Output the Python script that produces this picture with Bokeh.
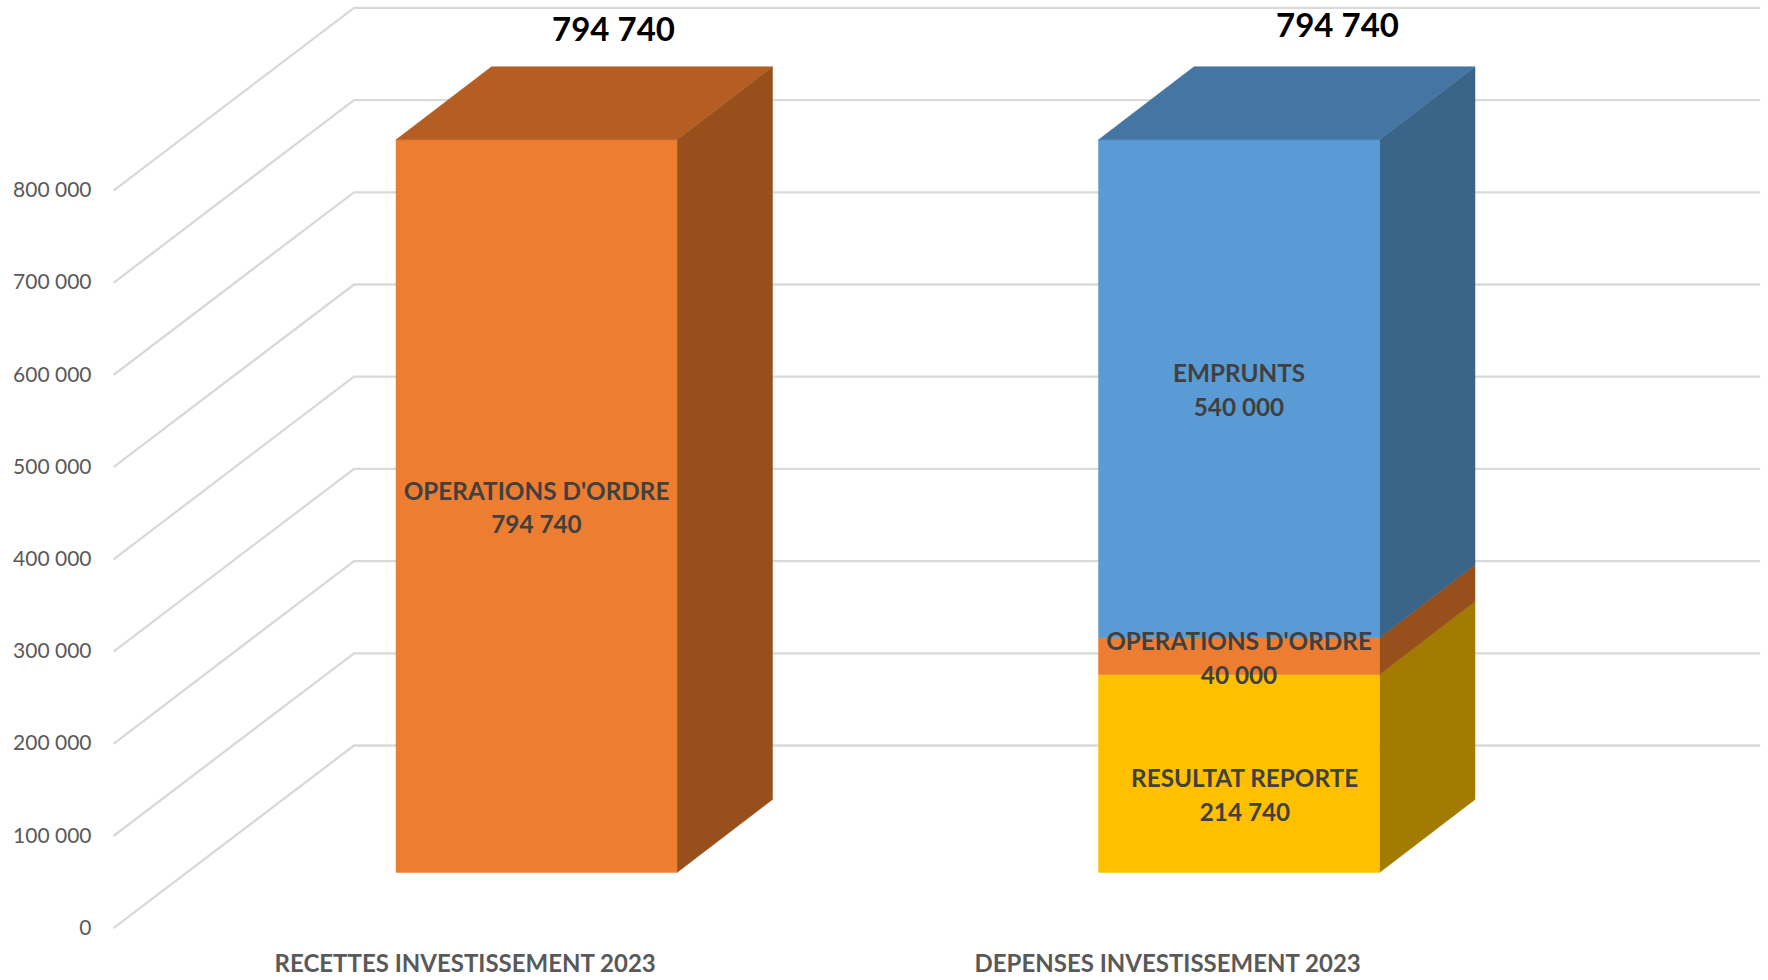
from bokeh.embed import file_html
from bokeh.resources import INLINE
from bokeh.plotting import figure
from bokeh.models import Range1d, LinearAxis, FixedTicker, ColumnDataSource
from bokeh.core.properties import value

categories = ["RECETTES INVESTISSEMENT 2023", "DEPENSES INVESTISSEMENT 2023"]
recettes_names = ["OPERATIONS D'ORDRE"]
recettes_values = [794740]
recettes_colors = [("#ED7D31", "#97501C", "#B45E23")]
depenses_names = ["RESULTAT REPORTE", "OPERATIONS D'ORDRE", "EMPRUNTS"]
depenses_values = [214740, 40000, 540000]
depenses_colors = [("#FFC000", "#A37B00", "#A37B00"),
                   ("#ED7D31", "#97501C", "#B45E23"),
                   ("#5B9BD5", "#3A6488", "#4575A2")]
totals = [794740, 794740]
tick_values = [0, 100000, 200000, 300000, 400000, 500000, 600000, 700000, 800000]
tick_labels = ["0", "100 000", "200 000", "300 000", "400 000", "500 000", "600 000", "700 000", "800 000"]

# geometry (page px -> data scales)
FRAME_L, FRAME_R, FRAME_T, FRAME_B = 100.0, 1760.0, 0.0, 930.0
PX_PER_VAL = 92.2 / 100000
PX_PER_CAT = 702.5
BASE_Y, BASE_X = 872.0, 536.0
HALF = 0.2
DX, DY = 95.5 / PX_PER_CAT, 73.0 / PX_PER_VAL          # bar depth
AX_SHIFT = (BASE_Y - 927.7) / PX_PER_VAL                # floor front edge
WALL_SHIFT = (BASE_Y - 745.0) / PX_PER_VAL              # back wall
LABEL_NUDGE = 2.0 / PX_PER_VAL                          # tick labels sit slightly above the line ends
XL_FRONT = (113.0 - BASE_X) / PX_PER_CAT
XL_BACK = (353.5 - BASE_X) / PX_PER_CAT
XR = (1760.0 - BASE_X) / PX_PER_CAT

x0 = (FRAME_L - BASE_X) / PX_PER_CAT
x1 = (FRAME_R - BASE_X) / PX_PER_CAT
y0 = (BASE_Y - FRAME_B) / PX_PER_VAL
y1 = (BASE_Y - FRAME_T) / PX_PER_VAL

p = figure(width=1768, height=980, output_backend="svg", toolbar_location=None,
           x_range=Range1d(x0, x1), y_range=Range1d(y0, y1),
           frame_width=int(FRAME_R - FRAME_L), frame_height=int(FRAME_B - FRAME_T),
           min_border_left=int(FRAME_L), min_border_right=8, min_border_top=0, min_border_bottom=50,
           x_axis_type=None, y_axis_type=None)
p.outline_line_color = None
p.grid.visible = False
p.background_fill_color = "#FFFFFF"
p.border_fill_color = "#FFFFFF"

# value axis lives on the front edge of the floor
p.extra_y_ranges["axis"] = Range1d(y0 - AX_SHIFT - LABEL_NUDGE, y1 - AX_SHIFT - LABEL_NUDGE)
yax = LinearAxis(y_range_name="axis", ticker=FixedTicker(ticks=tick_values),
                 major_label_overrides=dict(zip(tick_values, tick_labels)))
yax.axis_line_color = None
yax.major_tick_line_color = None
yax.minor_tick_line_color = None
yax.major_label_standoff = 3
yax.major_label_text_font = "Lato"
yax.major_label_text_font_size = "21px"
yax.major_label_text_color = "#595959"
p.add_layout(yax, "left")

# category axis, centred on the floor's front edge
CAT_SHIFT = -71.0 / PX_PER_CAT
p.extra_x_ranges["cat"] = Range1d(x0 - CAT_SHIFT, x1 - CAT_SHIFT)
xax = LinearAxis(x_range_name="cat", ticker=FixedTicker(ticks=[0, 1]),
                 major_label_overrides={0: categories[0], 1: categories[1]})
xax.axis_line_color = None
xax.major_tick_line_color = None
xax.minor_tick_line_color = None
xax.major_label_standoff = 11
xax.major_label_text_font = "Lato"
xax.major_label_text_font_style = "bold"
xax.major_label_text_font_size = "24px"
xax.major_label_text_color = "#595959"
p.add_layout(xax, "below")

# walls
for v in tick_values:
    p.line([XL_FRONT, XL_BACK, XR], [v + AX_SHIFT, v + WALL_SHIFT, v + WALL_SHIFT],
           line_color="#D9D9D9", line_width=2.3)


def draw_stack(cx, vals, colors):
    bottom = 0
    for v, (front, side, top) in zip(vals, colors):
        t = bottom + v
        l, r = cx - HALF, cx + HALF
        p.patch([r, r + DX, r + DX, r], [bottom, bottom + DY, t + DY, t], fill_color=side, line_color=side, line_width=0.5)
        p.patch([l, r, r, l], [bottom, bottom, t, t], fill_color=front, line_color=front, line_width=0.5)
        bottom = t
    c_top = colors[-1][2]
    l, r = cx - HALF, cx + HALF
    p.patch([l, r, r + DX, l + DX], [bottom, bottom, bottom + DY, bottom + DY], fill_color=c_top, line_color=c_top, line_width=0.5)


draw_stack(0, recettes_values, recettes_colors)
draw_stack(1, depenses_values, depenses_colors)


def fmt(v):
    return f"{v:,}".replace(",", " ")


lx, ly, lt = [], [], []
b = 0
for n, v in zip(recettes_names, recettes_values):
    lx.append(0); ly.append(b + v / 2 - 1000); lt.append(n + "\n" + fmt(v)); b += v
b = 0
nudges = [(6.0 / PX_PER_CAT, -21.0 / PX_PER_VAL), (0, -1.5 / PX_PER_VAL), (0, -1.0 / PX_PER_VAL)]
for n, v, (nx, ny) in zip(depenses_names, depenses_values, nudges):
    lx.append(1 + nx); ly.append(b + v / 2 + ny); lt.append(n + "\n" + fmt(v)); b += v
p.text(x="x", y="y", text="t", source=ColumnDataSource(dict(x=lx, y=ly, t=lt)),
       text_font=value("Lato"), text_font_style="bold", text_font_size="24.3px",
       text_color="#404040", text_align="center", text_baseline="middle", text_line_height=1.16)

tx = [(613 - BASE_X) / PX_PER_CAT, (1337 - BASE_X) / PX_PER_CAT]
ty = [totals[0] + (139 - 27) / PX_PER_VAL, totals[1] + (139 - 23) / PX_PER_VAL]
p.text(x=tx, y=ty, text=[fmt(t) for t in totals], text_font=value("Lato"), text_font_style="bold",
       text_font_size="33px", text_color="#000000", text_align="center", text_baseline="middle")

open("out.html", "w").write(file_html(p, INLINE))
